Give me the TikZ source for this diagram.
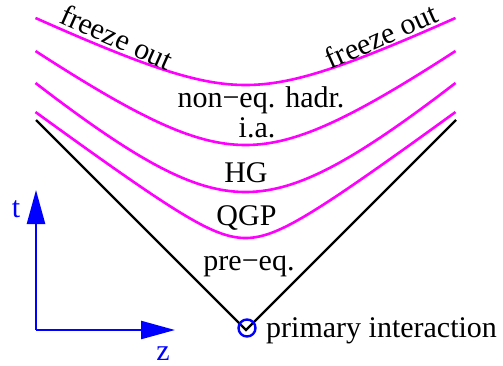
\documentclass[tikz,border=0pt]{standalone}
\usepackage{fontspec}
\setmainfont{Liberation Serif}
\usetikzlibrary{arrows.meta}
\definecolor{pmag}{RGB}{255,0,255}
\definecolor{pblue}{RGB}{0,0,255}
\begin{document}
\begin{tikzpicture}[x=1pt,y=-1pt,
  lbl/.style={font=\fontsize{30}{35}\selectfont, inner sep=0pt},
  curve/.style={pmag, line width=2.6pt},
  cone/.style={black, line width=2.2pt},
  axis/.style={pblue, line width=2.4pt, -{Triangle[length=34pt,width=18pt]}}]
\useasboundingbox (0,0) rectangle (503,365);
% light cone
\coordinate (L) at (36,120);
\coordinate (A) at (246,330);
\coordinate (R) at (456,120);
\draw[cone] (L) -- (A) -- (R);
% hyperbolas
\draw[curve] plot[domain=-210:210, samples=90, smooth] ({245.5+\x}, {85 - 48.4*(sqrt(0.81+(\x/100)^2)-0.9)});
\draw[curve] plot[domain=-210:210, samples=90, smooth] ({245.5+\x}, {145 - 72.4*(sqrt(1.1025+(\x/100)^2)-1.05)});
\draw[curve] plot[domain=-210:210, samples=90, smooth] ({245.5+\x}, {192 - 87.6*(sqrt(1.3225+(\x/100)^2)-1.15)});
\draw[curve] plot[domain=-210:210, samples=90, smooth] ({245.5+\x}, {238 - 74.2*(sqrt(0.2025+(\x/100)^2)-0.45)});
% labels
\node[lbl, rotate=-24] (fl) at (117,37) {freeze out};
\node[lbl, rotate=24] (fr) at (381,36) {freeze out};
\node[lbl, anchor=base] (neq) at (261,107) {non−eq. hadr.};
\node[lbl, anchor=base] (ia) at (257,137) {i.a.};
\node[lbl, anchor=base] (hg) at (246,182) {HG};
\node[lbl, anchor=base] (qgp) at (246.5,225) {QGP};
\node[lbl, anchor=base] (pre) at (249,270) {pre−eq.};
% primary interaction
\node[draw=pblue, line width=2.4pt, circle, minimum size=17pt, inner sep=0pt] (pi) at (247,328) {};
\node[lbl, anchor=base west] (pitext) at (266,337) {primary interaction};
% axes
\coordinate (O) at (36,330);
\coordinate (T) at (36,190);
\coordinate (Z) at (175,330);
\draw[axis] (O) -- (T);
\draw[axis] (O) -- (Z);
\node[lbl, pblue, anchor=base] (tl) at (16,217) {t};
\node[lbl, pblue, anchor=base] (zl) at (163,360) {z};
\end{tikzpicture}
\end{document}
